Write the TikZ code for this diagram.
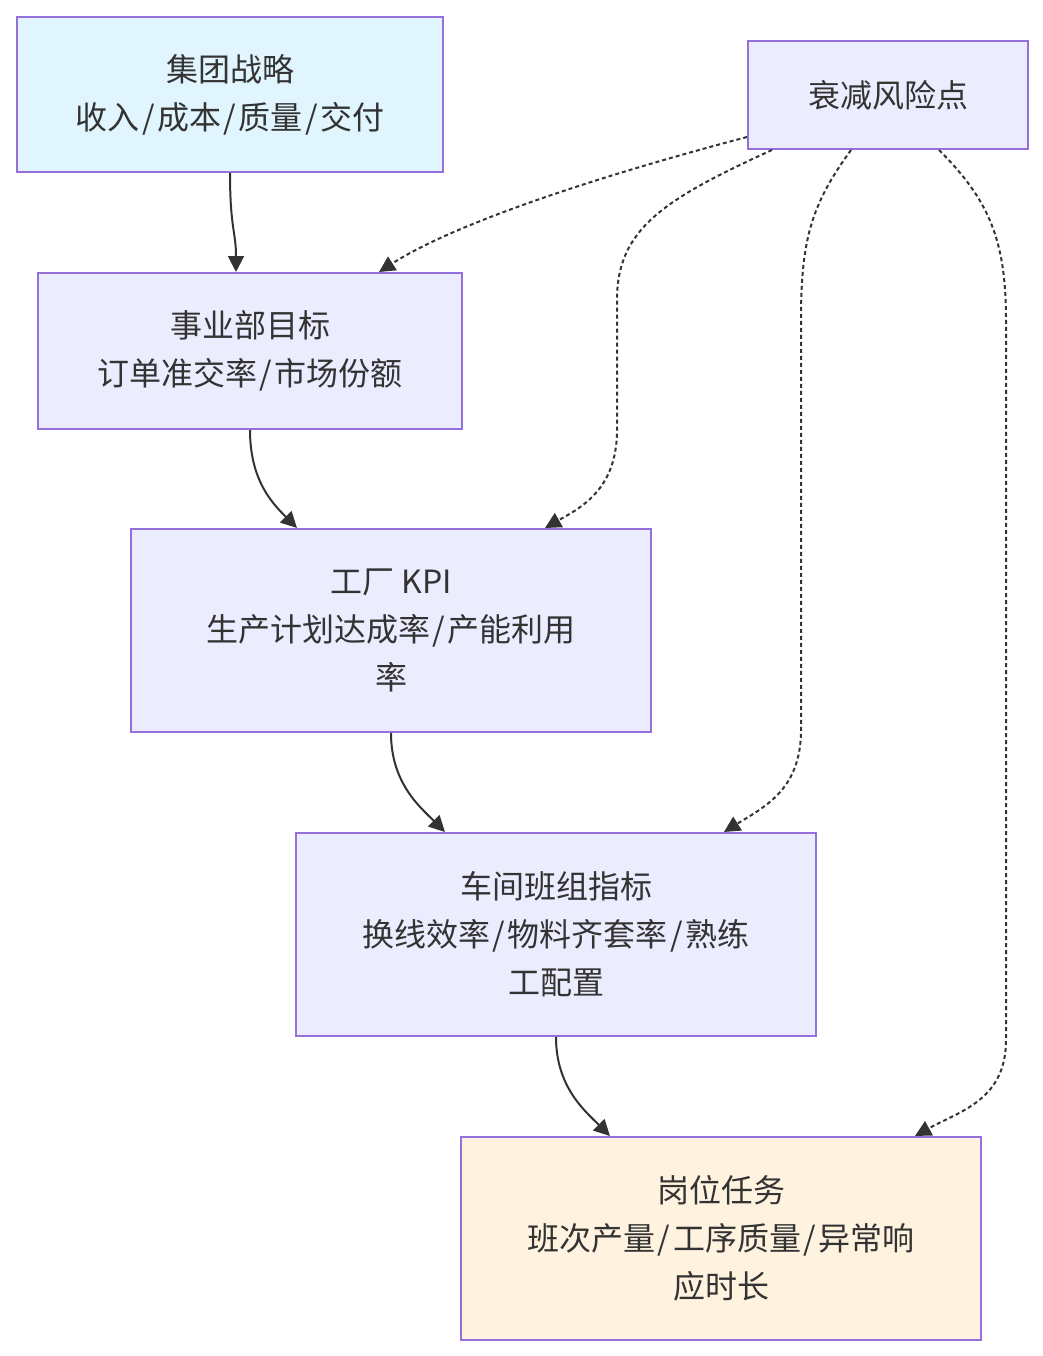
\documentclass[tikz,border=0pt]{standalone}
\usepackage{fontspec}
\setmainfont{Noto Sans CJK SC}
\usetikzlibrary{arrows.meta}
\definecolor{txt}{HTML}{333333}
\definecolor{bord}{HTML}{9370DB}
\definecolor{lav}{HTML}{ECECFF}
\definecolor{sky}{HTML}{E1F5FE}
\definecolor{peach}{HTML}{FFF3E0}
\newcommand{\slh}{\hspace{2.5pt}/\hspace{2.5pt}}
\tikzset{
  box/.style={draw=bord, line width=2pt, fill=lav, text=txt, align=center, anchor=north west, inner sep=0pt,
    font=\fontsize{32}{48}\selectfont},
  link/.style={draw=txt, line width=2pt, -{Triangle[length=16pt,width=16pt]}},
  dlink/.style={link, dash pattern=on 4pt off 3pt},
}
\begin{document}
\begin{tikzpicture}[x=1pt,y=-1pt]
\useasboundingbox (0,0) rectangle (1042,1356);
\node[box, fill=sky, minimum width=426pt, minimum height=155pt] (s) at (16,16) {集团战略\\收入\slh 成本\slh 质量\slh 交付};
\node[box, minimum width=280pt, minimum height=108pt] (r) at (747,40) {衰减风险点};
\node[box, minimum width=424pt, minimum height=156pt] (d) at (37,272) {事业部目标\\订单准交率\slh 市场份额};
\node[box, minimum width=520pt, minimum height=203pt] (f) at (130,528) {工厂 KPI\\生产计划达成率\slh 产能利用\\率};
\node[box, minimum width=520pt, minimum height=203pt] (w) at (295,832) {车间班组指标\\换线效率\slh 物料齐套率\slh 熟练\\工配置};
\node[box, fill=peach, minimum width=520pt, minimum height=203pt] (p) at (460,1136) {岗位任务\\班次产量\slh 工序质量\slh 异常响\\应时长};

\draw[link] (s.south) .. controls +(0,55) and +(0,-40) .. ([xshift=6pt]s.south |- d.north);
\draw[link] (d.south) .. controls +(0,50) and +(-25,-25) .. ([xshift=47pt]d.south |- f.north);
\draw[link] (f.south) .. controls +(0,50) and +(-25,-25) .. ([xshift=54pt]f.south |- w.north);
\draw[link] (w.south) .. controls +(0,50) and +(-25,-25) .. ([xshift=54pt]w.south |- p.north);

\draw[dlink] ([yshift=13pt]r.south west) .. controls +(-170,45) and +(70,-45) .. ([xshift=-84pt]d.north east);
\draw[dlink] ([xshift=25pt]r.south west) .. controls +(-110,50) and +(0,-70) .. (617,300) -- (617,430) .. controls +(0,60) and +(35,-20) .. ([xshift=-107pt]f.north east);
\draw[dlink] ([xshift=104pt]r.south west) .. controls +(-40,55) and +(0,-80) .. (801,320) -- (801,730) .. controls +(0,60) and +(40,-25) .. ([xshift=-93pt]w.north east);
\draw[dlink] ([xshift=-90pt]r.south east) .. controls +(50,50) and +(0,-80) .. (1006,320) -- (1006,1040) .. controls +(0,60) and +(45,-25) .. ([xshift=-67pt]p.north east);
\end{tikzpicture}
\end{document}
